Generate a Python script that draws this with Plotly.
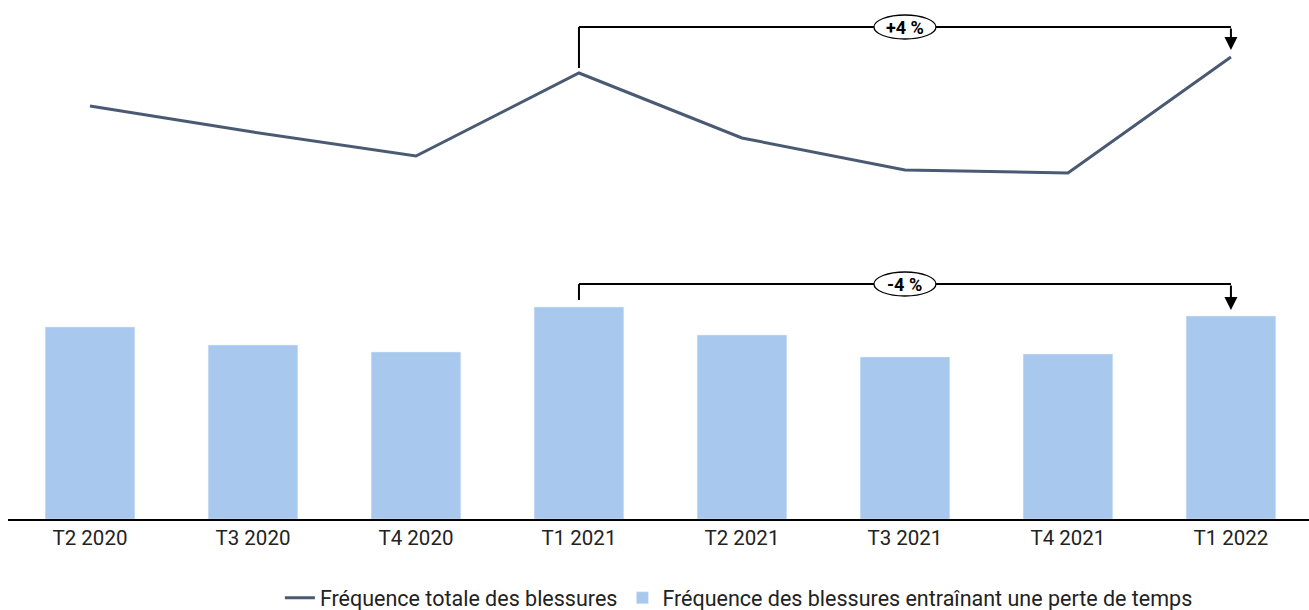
import plotly.graph_objects as go

categories = ["T2 2020", "T3 2020", "T4 2020", "T1 2021", "T2 2021", "T3 2021", "T4 2021", "T1 2022"]
total_freq = [4.13, 3.87, 3.63, 4.46, 3.81, 3.49, 3.46, 4.62]
lost_time_freq = [1.92, 1.74, 1.67, 2.12, 1.84, 1.62, 1.65, 2.03]
line_label = "Fréquence totale des blessures"
bar_label = "Fréquence des blessures entraînant une perte de temps"
top_change = "+4 %"
bar_change = "-4 %"

LINE_C = "#4a5a72"
BAR_C = "#a8c8ed"

fig = go.Figure()
fig.add_trace(go.Scatter(x=categories, y=total_freq, mode="lines", name=line_label,
                         line=dict(color=LINE_C, width=3)))
fig.add_trace(go.Bar(x=categories, y=lost_time_freq, name=bar_label, marker_color=BAR_C))

def bracket(i0, i1, y_start0, y_start1, y_top, label):
    x0, x1 = categories[i0], categories[i1]
    fig.add_shape(type="line", x0=x0, x1=x0, y0=y_start0, y1=y_top, line=dict(color="black", width=2))
    fig.add_shape(type="line", x0=x0, x1=x1, y0=y_top, y1=y_top, line=dict(color="black", width=2))
    fig.add_annotation(x=x1, y=y_start1, ax=x1, ay=y_top, xref="x", yref="y", axref="x", ayref="y",
                       showarrow=True, arrowhead=2, arrowsize=1.3, arrowwidth=2, arrowcolor="black", text="")
    xm = (i0 + i1) / 2
    fig.add_shape(type="circle", xref="x", yref="y", xsizemode="pixel", ysizemode="pixel",
                  xanchor=xm, yanchor=y_top, x0=-31, x1=31, y0=-12, y1=12,
                  line=dict(color="black", width=1.3), fillcolor="white", layer="above")
    fig.add_annotation(x=xm, y=y_top, text="<b>%s</b>" % label, showarrow=False,
                       font=dict(family="Roboto", size=18, color="black"))

# line bracket
bracket(3, 7, total_freq[3] + 0.05, total_freq[7] + 0.07, max(total_freq[3], total_freq[7]) + 0.30, top_change)
# bar bracket
bracket(3, 7, lost_time_freq[3] + 0.07, lost_time_freq[7] + 0.06, max(lost_time_freq[3], lost_time_freq[7]) + 0.23, bar_change)

fig.update_layout(
    width=1309, height=610,
    margin=dict(l=8, r=0, t=0, b=91),
    paper_bgcolor="white", plot_bgcolor="white",
    bargap=0.45,
    font=dict(family="Roboto", size=20, color="#222"),
    showlegend=True,
    legend=dict(orientation="h", x=0.209, xanchor="left", yref="container", y=0.02, yanchor="middle",
                font=dict(size=21.5, color="#222"), traceorder="normal"),
)
fig.update_xaxes(showline=True, linecolor="black", linewidth=1.5, ticks="", showgrid=False,
                 range=[-0.503, 7.479], tickfont=dict(size=20.5, color="#222"), automargin=False)
fig.update_yaxes(visible=False, range=[0, 5.19], showgrid=False)

fig.write_html("out.html")
